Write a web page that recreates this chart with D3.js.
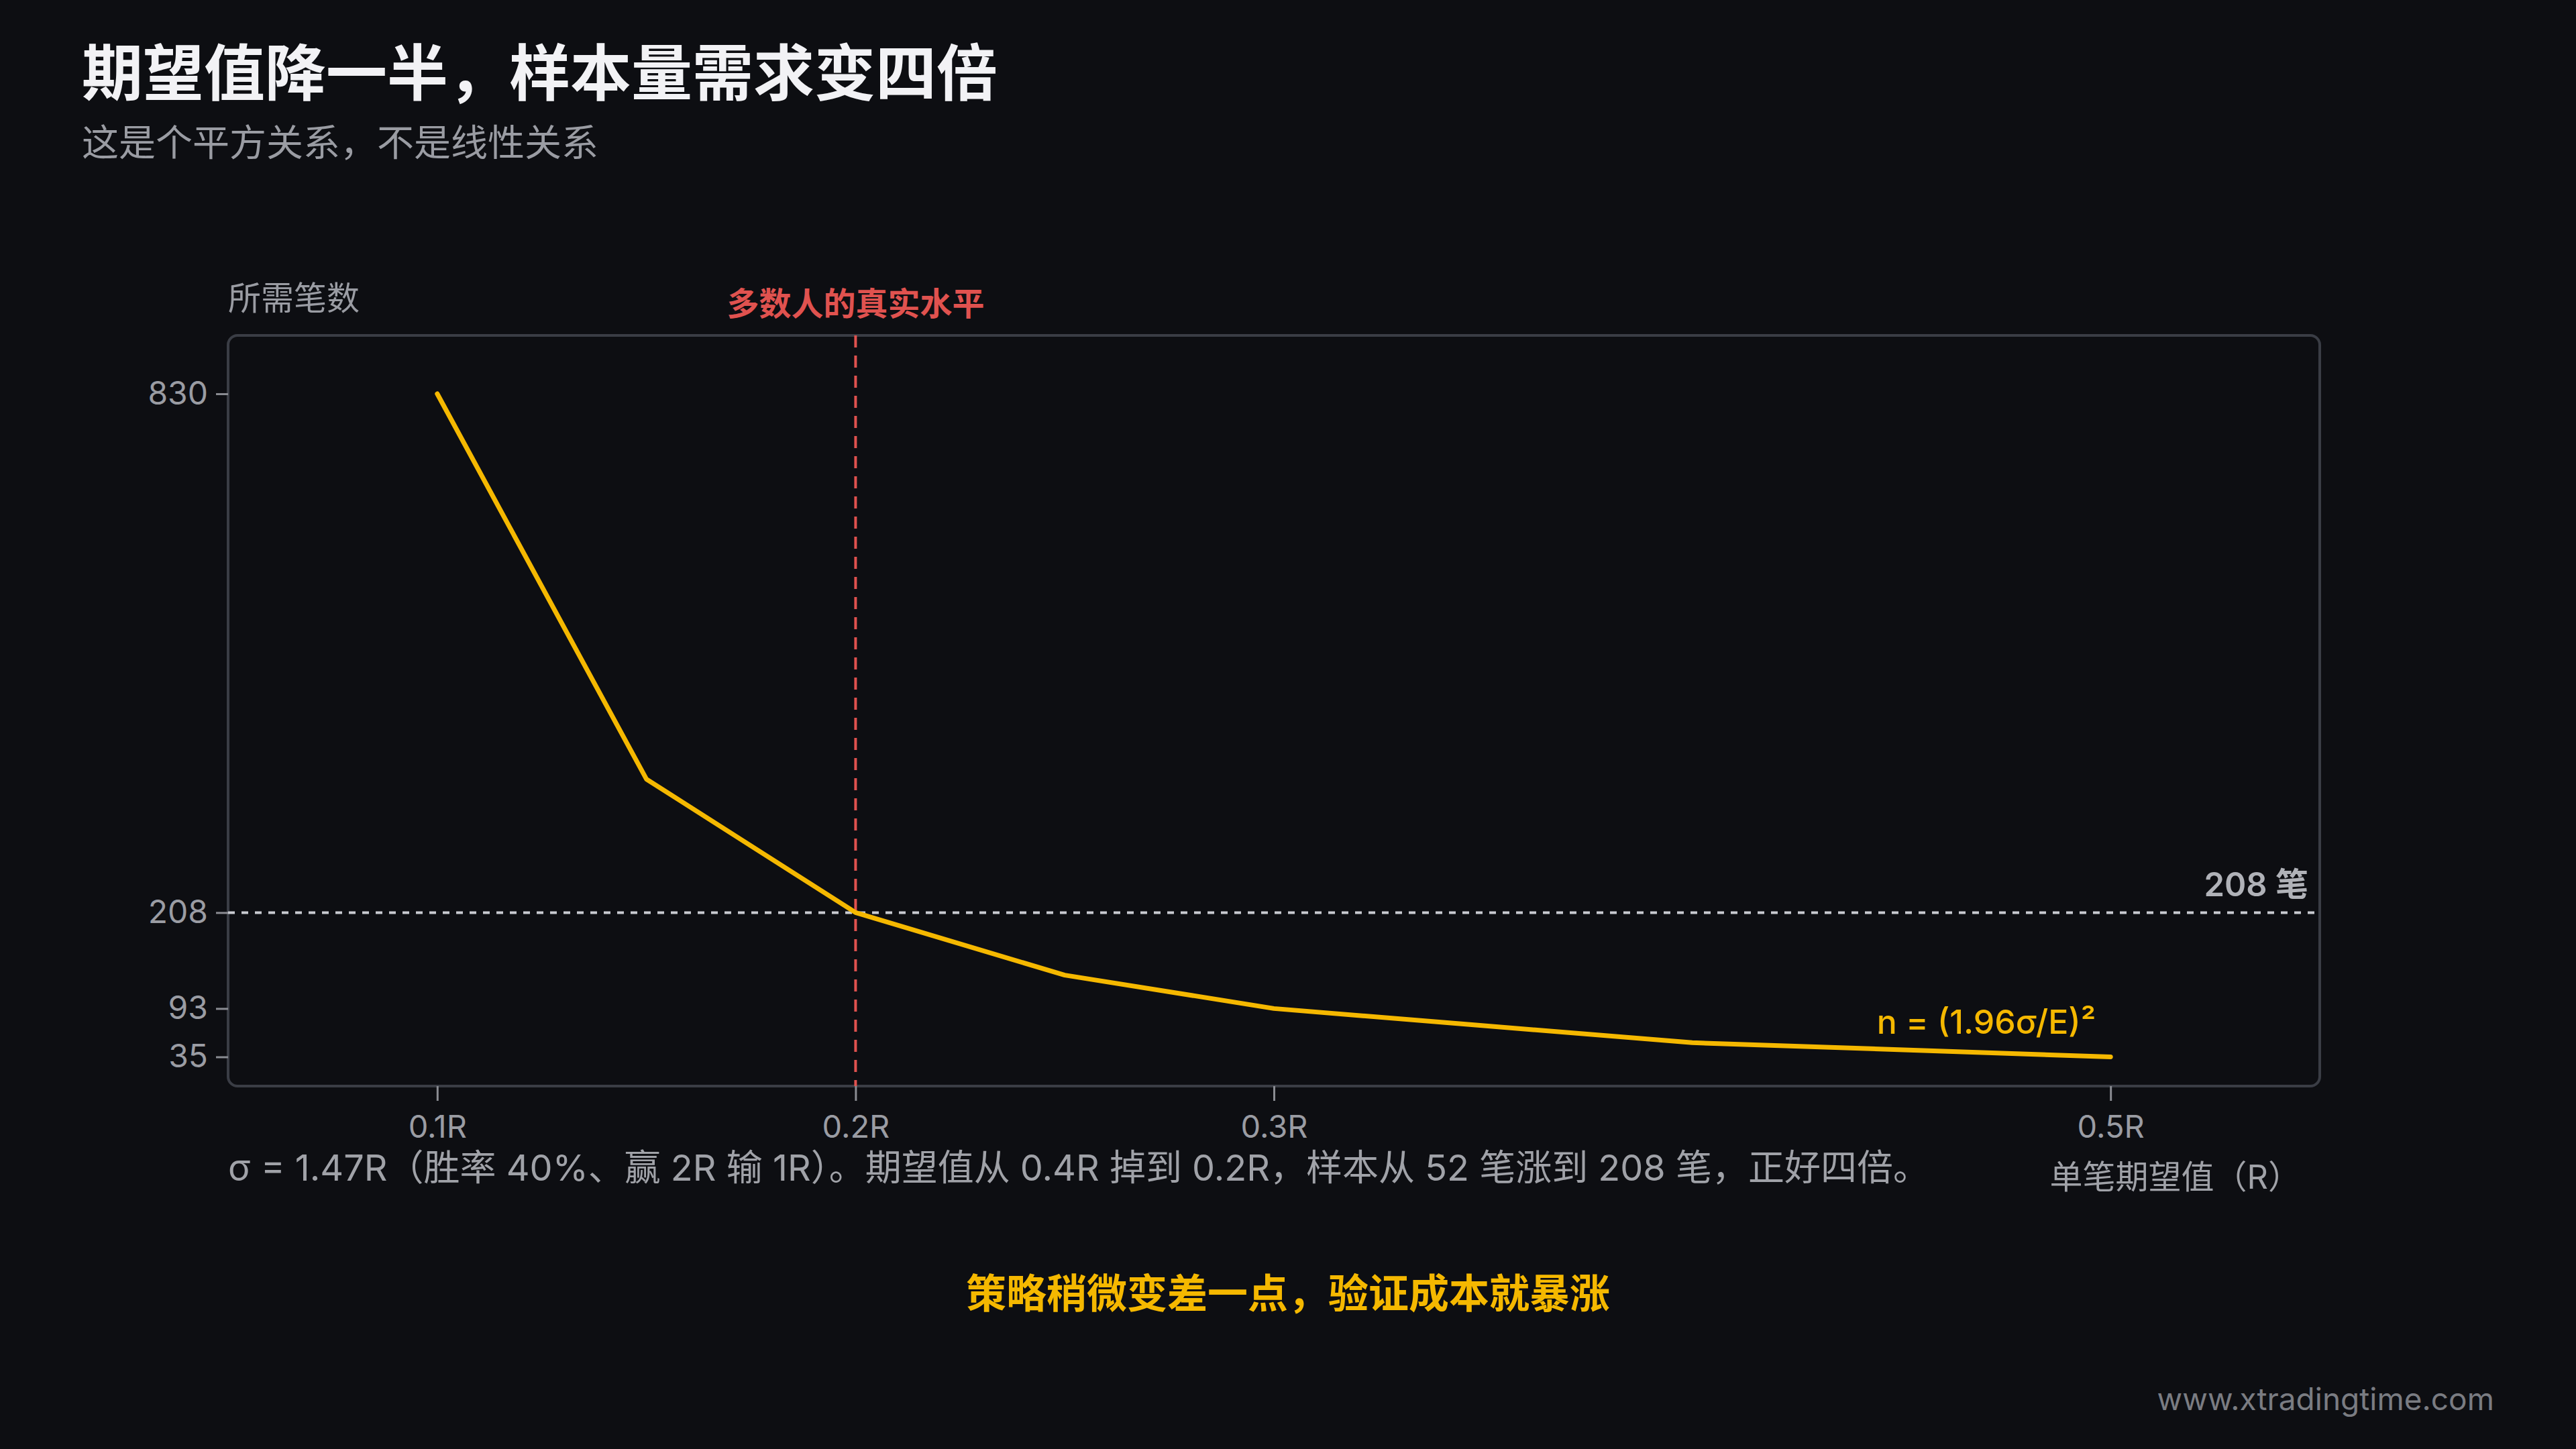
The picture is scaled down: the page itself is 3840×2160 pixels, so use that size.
<!DOCTYPE html>
<html><head><meta charset="utf-8">
<script src="https://cdn.jsdelivr.net/npm/d3@7"></script>
<style>html,body{margin:0;background:#0d0e12;}svg{display:block;}</style>
</head><body><svg id="c" width="3840" height="2160"></svg>
<script>
const expectancy = [0.1, 0.15, 0.2, 0.25, 0.3, 0.4, 0.5];
const tradesNeeded = [830, 368, 208, 133, 93, 52, 35];
const xTicks = [0.1, 0.2, 0.3, 0.5];
const xTickLabels = ["0.1R", "0.2R", "0.3R", "0.5R"];
const yTicks = [35, 93, 208, 830];
const refX = 0.2, refY = 208;

const F = "Inter,'Noto Sans CJK SC','Noto Sans',sans-serif";
const svg = d3.select("#c");
const L = 340, R = 3458, T = 500, B = 1619;
const x = d3.scaleLinear().domain([0.05, 0.55]).range([L, R]);
const y = d3.scaleLinear().domain([0, 900]).range([B, T]);

svg.append("rect").attr("width",3840).attr("height",2160).attr("fill","#0d0e12");
svg.append("text").attr("x",122).attr("y",142).attr("font-family",F).attr("font-size",91).attr("font-weight",700).attr("fill","#f2f2f5").text("期望值降一半，样本量需求变四倍");
svg.append("text").attr("x",122).attr("y",232).attr("font-family",F).attr("font-size",55).attr("fill","#9a9ca3").text("这是个平方关系，不是线性关系");
svg.append("text").attr("x",340).attr("y",462).attr("font-family",F).attr("font-size",49).attr("fill","#9a9ca3").text("所需笔数");

svg.append("rect").attr("x",L).attr("y",T).attr("width",R-L).attr("height",B-T).attr("rx",14)
  .attr("fill","#0d0e12").attr("stroke","#3a3d45").attr("stroke-width",4);

const ya = svg.append("g").attr("transform",`translate(${L},0)`)
  .call(d3.axisLeft(y).tickValues(yTicks).tickSize(18).tickPadding(12));
ya.select(".domain").remove();
ya.selectAll("line").attr("stroke","#8a8c92").attr("stroke-width",3);
ya.selectAll("text").attr("font-family",F).attr("font-size",48).attr("fill","#9a9ca3");
const xa = svg.append("g").attr("transform",`translate(0,${B})`)
  .call(d3.axisBottom(x).tickValues(xTicks).tickFormat((d,i)=>xTickLabels[i]).tickSize(22).tickPadding(22));
xa.select(".domain").remove();
xa.selectAll("line").attr("stroke","#8a8c92").attr("stroke-width",3);
xa.selectAll("text").attr("font-family",F).attr("font-size",47).attr("fill","#9a9ca3");

svg.append("line").attr("x1",L).attr("x2",R).attr("y1",y(refY)).attr("y2",y(refY))
  .attr("stroke","#c8cad0").attr("stroke-width",4).attr("stroke-dasharray","10 10");
svg.append("line").attr("x1",x(refX)).attr("x2",x(refX)).attr("y1",T).attr("y2",B)
  .attr("stroke","#e0524f").attr("stroke-width",4).attr("stroke-dasharray","18 12");
svg.append("text").attr("x",x(refX)).attr("y",470).attr("text-anchor","middle").attr("font-family",F)
  .attr("font-size",48).attr("font-weight",700).attr("fill","#e0524f").text("多数人的真实水平");
svg.append("text").attr("x",3441).attr("y",y(refY)-24).attr("text-anchor","end").attr("font-family",F)
  .attr("font-size",49).attr("font-weight",600).attr("fill","#b0b2b8").text("208 笔");

const data = expectancy.map((e,i)=>({e, n: tradesNeeded[i]}));
svg.append("path").datum(data).attr("fill","none").attr("stroke","#f5b800").attr("stroke-width",7)
  .attr("stroke-linecap","round").attr("stroke-linejoin","round")
  .attr("d", d3.line().x(d=>x(d.e)).y(d=>y(d.n)));
svg.append("text").attr("x",x(0.5)-22).attr("y",y(35)-34).attr("text-anchor","end").attr("font-family",F)
  .attr("font-size",50).attr("font-weight",500).attr("fill","#f5b800").text("n = (1.96σ/E)²");

svg.append("text").attr("x",340).attr("y",1760).attr("font-family",F).attr("font-size",54).attr("fill","#a0a2a8")
  .text("σ = 1.47R（胜率 40%、赢 2R 输 1R）。期望值从 0.4R 掉到 0.2R，样本从 52 笔涨到 208 笔，正好四倍。");
svg.append("text").attr("x",3430).attr("y",1772).attr("text-anchor","end").attr("font-family",F).attr("font-size",49).attr("fill","#a0a2a8")
  .text("单笔期望值（R）");
svg.append("text").attr("x",1920).attr("y",1950).attr("text-anchor","middle").attr("font-family",F).attr("font-size",60)
  .attr("font-weight",700).attr("fill","#f5b800").text("策略稍微变差一点，验证成本就暴涨");
svg.append("text").attr("x",3718).attr("y",2102).attr("text-anchor","end").attr("font-family",F).attr("font-size",46)
  .attr("fill","#7a7c82").text("www.xtradingtime.com");
</script></body></html>
